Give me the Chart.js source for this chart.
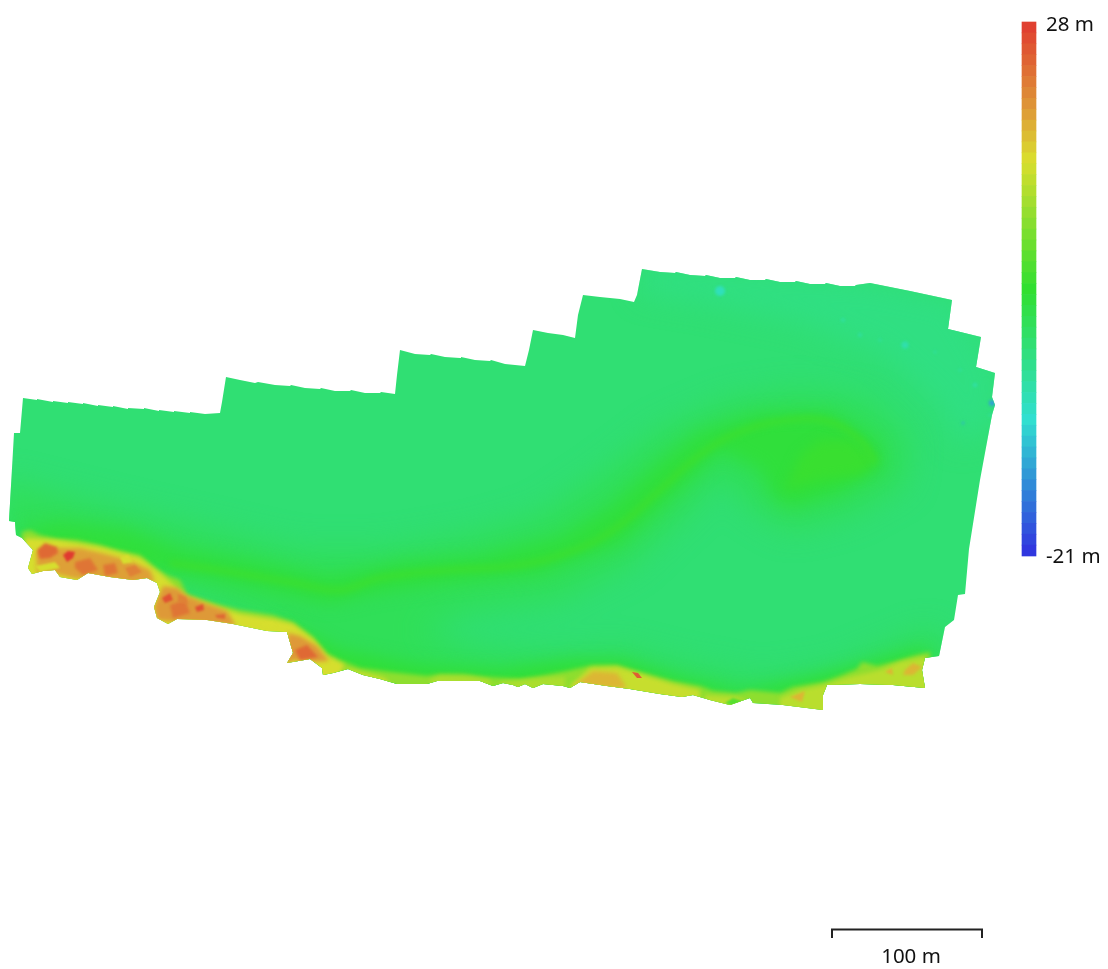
<!DOCTYPE html>
<html>
<head>
<meta charset="utf-8">
<title>Elevation map</title>
<script src="https://cdn.jsdelivr.net/npm/chart.js@4/dist/chart.umd.js"></script>
<style>
    html, body { margin: 0; padding: 0; background: #fff; }
    canvas { display: block; }
</style>
</head>
<body>
<canvas id="demChart" width="1108" height="969"></canvas>
<script>
// everything below is in map units, 1.5 units = 1 m on the ground
const surveyOutline = [
    [23,398],[37,400],[37,399],[53,402],[53,401],[68,403],[68,402],[83,404],[83,403],[98,406],[98,405],[113,407],[113,406],
    [128,409],[128,408],[144,409],[144,408],[159,411],[159,410],[174,412],[174,411],[190,413],[190,412],[205,414],[220,413],
    [222,402],[226,377],[240,380],[255,383],[258,382],[275,385],[290,386],[291,385],[305,388],[320,389],[321,388],[335,391],
    [350,391],[351,390],[365,393],[380,393],[381,392],[395,394],[397,375],[400,350],[415,354],[430,355],[431,354],[445,357],
    [460,358],[461,357],[475,360],[490,361],[491,360],[505,364],[525,366],[529,350],[533,330],[548,333],[563,335],[575,338],
    [578,315],[583,295],[600,297],[620,299],[634,302],[637,295],[642,269],[660,272],[675,273],[676,272],[690,275],[705,276],
    [706,275],[720,278],[735,278],[736,277],[750,280],[765,280],[766,279],[780,282],[795,282],[796,281],[810,284],[825,284],
    [826,283],[840,286],[855,286],[856,285],[870,283],[910,291],[952,300],[948,329],[981,337],[976,367],[995,373],[992,397],
    [995,405],[992,415],[980,480],[969,549],[965,594],[958,595],[954,620],[945,627],[939,656],[925,658],[922,670],[925,688],
    [893,685],[860,684],[827,685],[823,695],[823,710],[783,705],[753,703],[750,698],[730,705],[710,700],[693,695],[682,697],
    [660,694],[630,689],[607,686],[580,682],[570,688],[563,686],[543,684],[533,688],[525,684],[518,687],[513,685],[503,683],
    [493,686],[480,681],[457,681],[437,681],[427,684],[397,684],[380,679],[363,675],[348,669],[333,673],[323,675],[322,668],
    [310,659],[287,663],[293,653],[287,632],[267,631],[233,624],[207,620],[177,619],[168,624],[157,618],[154,607],[160,592],
    [157,583],[147,578],[133,580],[110,577],[88,573],[77,580],[60,577],[55,570],[43,571],[32,574],[28,568],[33,550],[22,538],
    [16,535],[15,522],[9,521],[14,433],[20,433]
];

const paleNorthEast = [[640,265],[870,280],[955,298],[1000,372],[995,425],[960,445],[935,400],[880,352],[800,322],[700,302],[640,292]];
const glowOuter = [
    [0,480],[60,495],[130,512],[210,530],[300,550],[380,550],[470,535],[540,515],[600,475],[660,430],[730,400],[800,390],
    [870,400],[910,440],[905,485],[850,515],[790,530],[755,510],[720,475],[690,510],[630,565],[560,600],[470,612],[420,630],
    [480,650],[560,655],[620,650],[680,665],[760,680],[830,670],[880,650],[930,630],[960,660],[960,720],[300,720],[280,640],
    [200,600],[100,570],[0,545]
];
const glowRiver = [
    [15,530],[60,522],[130,530],[180,550],[260,563],[330,578],[400,563],[480,557],[560,537],[610,507],[660,462],[700,432],
    [760,414],[830,412],[878,442],[882,468],[840,492],[790,507],[772,495],[760,470],[720,450],[680,488],[620,543],[540,573],
    [440,583],[370,593],[330,603],[260,588],[210,578],[150,570],[60,560]
];
const glowSouthCoast = [
    [280,620],[340,650],[420,665],[500,670],[570,660],[620,660],[680,678],[740,692],[810,678],[850,668],[900,655],[925,648],
    [930,700],[300,700]
];
const riverLine = [
    [170,563],[230,572],[290,582],[340,590],[380,578],[450,570],[520,565],[580,548],[620,525],[660,490],[700,455],[740,432],
    [790,420],[830,422],[860,440],[875,462]
];
const riverHead = [[785,490],[800,455],[820,440],[850,440],[878,460],[860,475],[820,480]];

const shelfUpperEdge = [
    [22,532],[30,530],[40,535],[57,539],[77,540],[100,545],[117,550],[140,555],[157,569],[167,575],[180,580],[187,594],
    [217,604],[240,610],[273,615],[293,622],[313,637],[328,654],[340,660],[360,668],[390,672],[427,676],[440,674],[463,674],
    [487,677],[520,679],[540,676],[567,671],[593,665],[617,665],[640,672],[673,681],[700,686],[713,691],[737,693],[750,690],
    [780,693],[793,687],[823,682],[837,677],[857,669],[862,662],[877,666],[897,661],[913,656],[930,652],[930,700],[830,720],
    [330,690],[280,670],[140,630],[20,590]
];
const yellowWest = [
    [26,538],[57,540],[100,547],[140,558],[160,573],[187,597],[217,607],[240,614],[273,619],[293,624],[313,639],[326,655],
    [345,665],[330,690],[280,680],[140,640],[10,600]
];
const yellowSouth = [[572,684],[590,668],[617,667],[640,674],[673,684],[700,690],[700,715],[640,710],[565,700]];
const yellowEast = [[780,698],[800,690],[825,685],[850,677],[880,670],[900,662],[925,657],[935,700],[830,720],[780,715]];
const yellowSouthSpots = [[345,668],[365,673],[385,678],[395,690],[360,690]];
const yellowSpots2 = [[430,680],[440,676],[470,677],[490,680],[490,690],[430,690]];
const yellowSpots3 = [[500,682],[520,680],[545,678],[565,677],[565,695],[500,695]];
const yellowSpots4 = [[705,695],[735,697],[745,700],[745,710],[705,710]];
const orangeWestStrip = [
    [36,552],[57,548],[80,548],[97,552],[113,556],[133,562],[150,570],[155,582],[133,585],[110,582],[90,580],[73,578],[57,574],[37,573]
];
const orangeHead2 = [[163,586],[177,588],[187,596],[207,604],[227,611],[236,626],[207,624],[177,622],[157,620],[154,607]];
const orangeHead3 = [[288,633],[300,636],[317,646],[329,661],[310,662],[293,660],[285,665]];
const orangeSouth = [[573,686],[593,671],[617,673],[627,688],[607,688],[580,685]];
const orangeEast = [[905,670],[913,663],[922,667],[913,675],[903,675]];
const orangeEast2 = [[885,672],[892,668],[893,675]];
const orangeEast3 = [[790,697],[805,691],[802,702]];
const hotA = [[37,550],[45,543],[57,547],[58,553],[50,558],[40,559]];
const hotB = [[75,562],[90,558],[98,570],[83,575],[75,568]];
const hotC = [[103,565],[115,563],[118,573],[105,576]];
const hotD = [[170,605],[185,600],[190,613],[173,618]];
const hotE = [[295,650],[307,645],[318,657],[300,660]];
const hotF = [[215,615],[225,614],[225,619],[217,618]];
const hotG = [[125,568],[135,565],[142,572],[130,577]];
const hotH = [[178,594],[186,597],[188,604],[178,602]];
const redA = [[63,555],[68,551],[75,552],[73,558],[67,562]];
const redB = [[162,598],[170,593],[173,600],[165,603]];
const redC = [[195,607],[203,604],[204,610],[197,612]];
const redD = [[632,672],[638,673],[642,678],[637,678]];
const paleBlobA = [[120,557],[128,555],[133,562],[123,564]];
const paleBlobB = [[35,566],[55,562],[60,568],[40,572]];
const paleBlobC = [[262,623],[272,622],[277,627],[265,629]];
const greenBlob = [[725,703],[733,698],[745,702],[738,708]];

// elevation of each layer in metres, read against the colour bar
const baseElevation = -1.6;
const layerShapes = [
    paleNorthEast, glowOuter, glowRiver, glowSouthCoast, riverHead, shelfUpperEdge, yellowWest, yellowSouth, yellowEast,
    yellowSouthSpots, yellowSpots2, yellowSpots3, yellowSpots4, orangeWestStrip, orangeHead2, orangeHead3, orangeSouth,
    orangeEast, orangeEast2, orangeEast3, hotA, hotB, hotC, hotD, hotE, hotF, hotG, hotH, redA, redB, redC, redD,
    paleBlobA, paleBlobB, paleBlobC, greenBlob
];
const layerElevations = [
    -2.7, 0.4, 2.6, 2.8, 4.0, 10, 15, 14, 13,
    14, 12, 12, 13, 19.5, 20, 20, 18,
    18, 18, 18, 24, 23, 23, 23, 24, 24, 22, 22, 28, 26, 26, 25,
    15, 15, 15, 6
];
const layerBlurs = [
    14, 15, 9, 8, 6, 2, 2, 2, 2,
    2, 2, 2, 2, 2, 2, 2, 2,
    1.5, 1, 1, 1.5, 1.5, 1.5, 1.5, 1.5, 1, 1, 1, 0.8, 1, 1, 0.5,
    1, 1, 1, 1
];

const riverElevation = 4.2;
const speckX = [720, 905, 992, 963, 843, 860, 880, 935, 960, 975, 990];
const speckY = [291, 345, 403, 423, 320, 335, 340, 352, 370, 385, 415];
const speckElevation = [-7, -6, -13, -12, -5, -5, -5, -5, -5, -6, -5];
const speckSizes = [5, 3.5, 3, 1.2, 2, 2, 1.5, 1.5, 1.5, 2, 1.5];

// colour bar
const ramp = [-21, -8.5, 3.4, 15.3, 19.9, 28];
const rampColours = [[48,48,224], [48,223,208], [48,223,48], [218,222,46], [222,154,56], [224,58,48]];
const barTop = 22;
const barBottom = 556;
const barX = 1029;
const barSteps = [28,27,26,25,24,23,22,21,20,19,18,17,16,15,14,13,12,11,10,9,8,7,6,5,4,3,2,1,0,-1,-2,-3,-4,-5,-6,-7,-8,-9,-10,-11,-12,-13,-14,-15,-16,-17,-18,-19,-20];
const barLabels = ['28 m', '-21 m'];
const barLabelValues = [28, -21];
const barLabelNudge = [3, 1];
const scaleBar = [[832,938],[832,929.5],[982,929.5],[982,938]];
const scaleBarLabel = '100 m';

function elevColour(e) {
    let i = 0;
    while (i < ramp.length - 2 && e > ramp[i + 1]) i++;
    const t = Math.min(1, Math.max(0, (e - ramp[i]) / (ramp[i + 1] - ramp[i])));
    const c = rampColours[i].map((v, k) => Math.round(v + (rampColours[i + 1][k] - v) * t));
    return 'rgb(' + c.join(',') + ')';
}

function barY(e) {
    return barTop + (28 - e) * (barBottom - barTop) / 49;
}

function toPoints(list) {
    return list.map(p => ({ x: p[0], y: p[1] }));
}

// blur and clip have to be on the context before the filler paints
const surveyClip = {
    id: 'surveyClip',
    beforeDatasetDraw(chart, args) {
        const ds = chart.data.datasets[args.index];
        const ctx = chart.ctx;
        ctx.save();
        if (ds.inSurvey) {
            const { x, y } = chart.scales;
            ctx.beginPath();
            surveyOutline.forEach((p, i) => {
                if (i === 0) ctx.moveTo(x.getPixelForValue(p[0]), y.getPixelForValue(p[1]));
                else ctx.lineTo(x.getPixelForValue(p[0]), y.getPixelForValue(p[1]));
            });
            ctx.closePath();
            ctx.clip();
        }
        if (ds.blur) ctx.filter = 'blur(' + ds.blur + 'px)';
    },
    afterDatasetDraw(chart) {
        chart.ctx.restore();
    },
    afterDraw(chart) {
        const ctx = chart.ctx;
        const { x, y } = chart.scales;
        ctx.save();
        ctx.fillStyle = '#111';
        ctx.font = '20.5px "Noto Sans"';
        ctx.textBaseline = 'middle';
        barLabels.forEach((label, i) => {
            ctx.fillText(label, x.getPixelForValue(1046), y.getPixelForValue(barY(barLabelValues[i])) + barLabelNudge[i]);
        });
        ctx.textAlign = 'center';
        ctx.fillText(scaleBarLabel, x.getPixelForValue(911), y.getPixelForValue(957));
        ctx.restore();
    }
};

const filler = Chart.registry.getPlugin('filler');
Chart.unregister(filler);
Chart.register(surveyClip);
Chart.register(filler);

const datasets = [];
datasets.push({
    type: 'line',
    data: toPoints(surveyOutline),
    fill: 'shape',
    backgroundColor: elevColour(baseElevation),
    borderWidth: 0,
    pointRadius: 0
});
layerShapes.forEach((shape, i) => {
    datasets.push({
        type: 'line',
        data: toPoints(shape),
        fill: 'shape',
        backgroundColor: elevColour(layerElevations[i]),
        borderWidth: 0,
        pointRadius: 0,
        inSurvey: true,
        blur: layerBlurs[i]
    });
});
datasets.push({
    type: 'line',
    data: toPoints(riverLine),
    fill: false,
    borderColor: elevColour(riverElevation),
    borderWidth: 6,
    tension: 0.4,
    pointRadius: 0,
    inSurvey: true,
    blur: 3
});
datasets.push({
    type: 'line',
    data: speckX.map((v, i) => ({ x: v, y: speckY[i] })),
    showLine: false,
    pointRadius: speckSizes,
    pointBorderWidth: 0,
    pointBackgroundColor: speckElevation.map(elevColour),
    inSurvey: true,
    blur: 1.5
});
datasets.push({
    type: 'bar',
    data: barSteps.map(e => ({ x: barX, y: [barY(e), barY(e - 1)] })),
    backgroundColor: barSteps.map(e => elevColour(e - 0.5)),
    barThickness: 14,
    borderSkipped: false
});
datasets.push({
    type: 'line',
    data: toPoints(scaleBar),
    fill: false,
    borderColor: '#222',
    borderWidth: 2,
    pointRadius: 0
});
datasets.forEach((ds, i) => { ds.order = -i; });

new Chart(document.getElementById('demChart').getContext('2d'), {
    data: { datasets: datasets },
    options: {
        responsive: false,
        animation: false,
        devicePixelRatio: 1,
        layout: { padding: 0, autoPadding: false },
        plugins: { legend: { display: false }, tooltip: { enabled: false } },
        scales: {
            x: { type: 'linear', min: 0, max: 1108, display: false, offset: false },
            y: { type: 'linear', min: 0, max: 969, reverse: true, display: false, offset: false }
        }
    }
});
</script>
</body>
</html>
